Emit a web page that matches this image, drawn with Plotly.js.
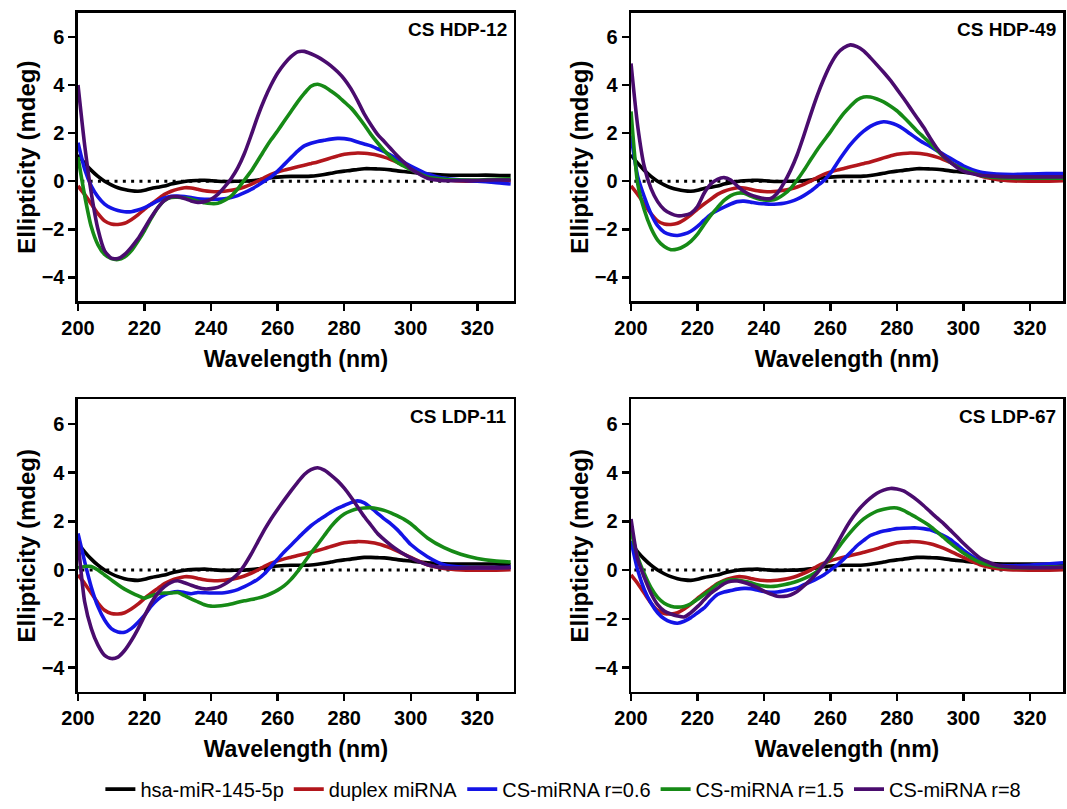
<!DOCTYPE html>
<html>
<head>
<meta charset="utf-8">
<script src="https://cdn.plot.ly/plotly-3.0.1.min.js"></script>
<style>html,body{margin:0;padding:0;background:#fff;}#chart{width:1067px;height:809px;}</style>
</head>
<body>
<div id="chart"></div>
<script>
// ---- data ----
const wavelength = [200,202,204,206,208,210,212,214,216,218,220,222,224,226,228,230,232,234,236,238,240,242,244,246,248,250,252,254,256,258,260,262,264,266,268,270,272,274,276,278,280,282,284,286,288,290,292,294,296,298,300,305,310,315,320,325,330];

const hsa = [1.1,0.75,0.45,0.2,0.0,-0.15,-0.27,-0.35,-0.4,-0.42,-0.38,-0.3,-0.25,-0.2,-0.12,-0.06,-0.01,0.02,0.03,0.04,0.02,0.0,-0.01,-0.01,0.0,0.0,0.02,0.05,0.1,0.14,0.17,0.19,0.2,0.2,0.2,0.21,0.24,0.28,0.33,0.38,0.42,0.45,0.49,0.52,0.52,0.51,0.5,0.47,0.43,0.4,0.37,0.3,0.26,0.25,0.25,0.25,0.23];
const duplex = [-0.2,-0.55,-0.95,-1.35,-1.65,-1.78,-1.8,-1.75,-1.6,-1.4,-1.16,-0.95,-0.75,-0.55,-0.42,-0.33,-0.27,-0.28,-0.34,-0.4,-0.43,-0.44,-0.42,-0.38,-0.32,-0.24,-0.13,0.0,0.15,0.28,0.38,0.46,0.53,0.6,0.66,0.73,0.8,0.88,0.97,1.05,1.12,1.15,1.17,1.16,1.13,1.08,1.0,0.9,0.78,0.65,0.52,0.22,0.07,0.01,0.0,0.0,0.02];

// CS HDP-12
const hdp12_r06 = [1.6,0.5,-0.2,-0.65,-0.95,-1.12,-1.22,-1.27,-1.27,-1.2,-1.1,-0.96,-0.82,-0.7,-0.63,-0.62,-0.64,-0.68,-0.73,-0.75,-0.75,-0.75,-0.73,-0.68,-0.6,-0.48,-0.34,-0.18,0.0,0.18,0.42,0.7,0.98,1.25,1.47,1.58,1.65,1.7,1.75,1.78,1.77,1.72,1.63,1.55,1.47,1.35,1.23,1.08,0.93,0.78,0.63,0.3,0.12,0.05,0.0,-0.05,-0.12];
const hdp12_r15 = [1.0,-0.6,-1.9,-2.65,-3.05,-3.22,-3.26,-3.15,-2.9,-2.5,-2.05,-1.55,-1.1,-0.8,-0.68,-0.67,-0.7,-0.75,-0.83,-0.9,-0.93,-0.92,-0.8,-0.62,-0.32,0.05,0.41,0.85,1.3,1.72,2.1,2.5,2.9,3.3,3.65,3.95,4.03,3.93,3.75,3.55,3.3,3.05,2.72,2.35,1.95,1.6,1.28,1.0,0.78,0.62,0.48,0.17,0.08,0.05,0.05,0.08,0.1];
const hdp12_r8 = [4.0,1.5,-0.5,-2.0,-2.9,-3.2,-3.22,-3.05,-2.75,-2.4,-1.95,-1.5,-1.1,-0.8,-0.65,-0.65,-0.72,-0.82,-0.88,-0.85,-0.75,-0.55,-0.25,0.1,0.55,1.15,1.9,2.7,3.4,4.0,4.5,4.88,5.18,5.38,5.4,5.3,5.17,5.0,4.8,4.55,4.25,3.85,3.35,2.8,2.35,1.95,1.65,1.35,1.05,0.78,0.52,0.12,0.02,0.02,0.03,0.05,0.05];

// CS HDP-49
const hdp49_r06 = [1.9,0.2,-0.65,-1.35,-1.85,-2.12,-2.23,-2.26,-2.2,-2.08,-1.88,-1.62,-1.38,-1.22,-1.08,-0.95,-0.85,-0.83,-0.87,-0.92,-0.94,-0.96,-0.95,-0.92,-0.85,-0.75,-0.6,-0.42,-0.2,0.02,0.33,0.75,1.15,1.52,1.83,2.08,2.28,2.41,2.47,2.43,2.33,2.17,1.97,1.78,1.6,1.45,1.28,1.12,0.96,0.8,0.64,0.38,0.3,0.28,0.3,0.32,0.32];
const hdp49_r15 = [2.9,-0.1,-1.2,-1.95,-2.45,-2.72,-2.85,-2.82,-2.7,-2.5,-2.2,-1.8,-1.42,-1.1,-0.8,-0.6,-0.5,-0.5,-0.62,-0.72,-0.78,-0.79,-0.72,-0.55,-0.3,0.05,0.45,0.88,1.3,1.68,2.05,2.45,2.82,3.12,3.38,3.5,3.5,3.42,3.3,3.13,2.93,2.67,2.39,2.1,1.84,1.58,1.3,1.02,0.8,0.62,0.5,0.25,0.15,0.12,0.12,0.12,0.12];
const hdp49_r8 = [4.9,2.3,0.6,-0.3,-0.85,-1.18,-1.35,-1.44,-1.42,-1.33,-1.05,-0.5,-0.12,0.08,0.15,0.05,-0.2,-0.42,-0.57,-0.66,-0.72,-0.72,-0.5,-0.08,0.45,1.1,1.9,2.75,3.55,4.25,4.85,5.3,5.55,5.67,5.6,5.42,5.14,4.84,4.53,4.2,3.83,3.45,3.05,2.65,2.25,1.8,1.38,1.05,0.8,0.58,0.42,0.25,0.2,0.18,0.18,0.18,0.18];

// CS LDP-11
const ldp11_r06 = [1.5,0.35,-0.7,-1.5,-2.05,-2.4,-2.54,-2.55,-2.4,-2.15,-1.85,-1.48,-1.2,-1.02,-0.92,-0.88,-0.92,-0.97,-0.92,-0.93,-0.94,-0.94,-0.93,-0.88,-0.8,-0.68,-0.54,-0.38,-0.15,0.15,0.45,0.75,1.02,1.3,1.57,1.82,2.02,2.2,2.38,2.53,2.65,2.77,2.84,2.76,2.56,2.33,2.1,1.9,1.65,1.35,1.05,0.55,0.22,0.12,0.1,0.1,0.12];
const ldp11_r15 = [0.1,0.15,0.15,0.0,-0.2,-0.4,-0.6,-0.78,-0.92,-1.05,-1.15,-1.05,-0.97,-0.94,-0.94,-0.92,-1.05,-1.18,-1.3,-1.42,-1.48,-1.47,-1.44,-1.39,-1.32,-1.26,-1.21,-1.15,-1.07,-0.96,-0.82,-0.64,-0.38,-0.05,0.32,0.7,1.05,1.42,1.78,2.08,2.3,2.43,2.52,2.55,2.56,2.52,2.45,2.35,2.22,2.08,1.9,1.32,0.92,0.65,0.48,0.38,0.33];
const ldp11_r8 = [1.2,-1.3,-2.4,-3.08,-3.5,-3.63,-3.57,-3.3,-2.9,-2.42,-1.88,-1.35,-0.95,-0.68,-0.5,-0.44,-0.52,-0.62,-0.71,-0.77,-0.76,-0.71,-0.58,-0.4,-0.16,0.2,0.65,1.15,1.65,2.1,2.5,2.88,3.25,3.6,3.92,4.12,4.2,4.1,3.9,3.66,3.36,3.0,2.6,2.2,1.85,1.5,1.25,1.02,0.82,0.65,0.5,0.22,0.1,0.08,0.1,0.1,0.1];

// CS LDP-67
const ldp67_r06 = [1.2,0.0,-0.8,-1.35,-1.75,-2.0,-2.13,-2.18,-2.1,-1.95,-1.75,-1.55,-1.25,-1.0,-0.9,-0.84,-0.78,-0.75,-0.76,-0.82,-0.88,-0.91,-0.9,-0.86,-0.8,-0.73,-0.6,-0.48,-0.35,-0.2,0.0,0.2,0.45,0.72,1.0,1.22,1.42,1.52,1.6,1.65,1.7,1.72,1.73,1.73,1.7,1.65,1.55,1.42,1.27,1.05,0.82,0.38,0.2,0.18,0.2,0.25,0.3];
const ldp67_r15 = [1.6,0.55,-0.15,-0.72,-1.12,-1.36,-1.48,-1.52,-1.49,-1.38,-1.2,-1.0,-0.8,-0.58,-0.46,-0.4,-0.41,-0.46,-0.52,-0.6,-0.65,-0.67,-0.65,-0.6,-0.54,-0.46,-0.35,-0.22,-0.05,0.22,0.5,0.85,1.22,1.55,1.85,2.1,2.28,2.42,2.5,2.55,2.55,2.45,2.3,2.15,1.98,1.8,1.58,1.35,1.12,0.9,0.7,0.32,0.15,0.1,0.1,0.12,0.15];
const ldp67_r8 = [2.1,0.45,-0.3,-0.95,-1.42,-1.68,-1.8,-1.88,-1.92,-1.75,-1.5,-1.22,-0.95,-0.75,-0.56,-0.46,-0.45,-0.51,-0.6,-0.72,-0.86,-0.98,-1.07,-1.08,-1.02,-0.88,-0.65,-0.4,-0.12,0.22,0.6,1.08,1.57,2.02,2.4,2.7,2.95,3.15,3.28,3.35,3.33,3.25,3.08,2.88,2.65,2.4,2.15,1.92,1.65,1.38,1.1,0.5,0.2,0.12,0.1,0.1,0.12];

const seriesNames = ['hsa-miR-145-5p','duplex miRNA','CS-miRNA r=0.6','CS-miRNA r=1.5','CS-miRNA r=8'];
const panelNames = ['CS HDP-12','CS HDP-49','CS LDP-11','CS LDP-67'];
const panelSeries = [
  [hsa, duplex, hdp12_r06, hdp12_r15, hdp12_r8],
  [hsa, duplex, hdp49_r06, hdp49_r15, hdp49_r8],
  [hsa, duplex, ldp11_r06, ldp11_r15, ldp11_r8],
  [hsa, duplex, ldp67_r06, ldp67_r15, ldp67_r8]
];
const zeroLineX = [201, 313];
const zeroLineY = [0, 0];

// ---- styling ----
const colors = ['#000000','#b2161c','#1414e6','#168a16','#4a0c6e'];
const FONT = 'Liberation Sans, Arial, Helvetica, sans-serif';
const LEGFONT = 'Liberation Sans Narrow, Arial Narrow, Liberation Sans, sans-serif';

const traces = [];
panelSeries.forEach((series, p) => {
  const ax = p === 0 ? '' : String(p + 1);
  traces.push({
    x: zeroLineX, y: zeroLineY, mode: 'lines', xaxis: 'x' + ax, yaxis: 'y' + ax,
    line: {color: '#000', width: 3, dash: '3px,5.3px'}, showlegend: false, hoverinfo: 'skip'
  });
  series.forEach((vals, s) => {
    traces.push({
      x: wavelength, y: vals, mode: 'lines', name: seriesNames[s],
      xaxis: 'x' + ax, yaxis: 'y' + ax,
      line: {color: colors[s], width: 3.6, shape: 'spline', smoothing: 0.6},
      showlegend: p === 0, legendgroup: seriesNames[s]
    });
  });
});

const xDomains = [[0.0731, 0.4817], [0.5914, 0.9963], [0.0731, 0.4817], [0.5914, 0.9963]];
const yDomains = [[0.6242, 0.9839], [0.6242, 0.9839], [0.1372, 0.5019], [0.1372, 0.5019]];
const xRanges = [[200, 331], [200, 330], [200, 331], [200, 330]];

const layout = {
  width: 1067, height: 809,
  margin: {l: 0, r: 0, t: 0, b: 0},
  paper_bgcolor: '#fff', plot_bgcolor: '#fff',
  font: {family: FONT, color: '#000'},
  showlegend: true,
  legend: {
    orientation: 'h', x: 0.528, xanchor: 'center', y: 0.016, yanchor: 'middle',
    font: {family: LEGFONT, size: 20, color: '#000'}, itemwidth: 30,
    traceorder: 'normal', bgcolor: 'rgba(0,0,0,0)'
  },
  annotations: []
};

for (let p = 0; p < 4; p++) {
  const ax = p === 0 ? '' : String(p + 1);
  layout['xaxis' + ax] = {
    domain: xDomains[p], range: xRanges[p], anchor: 'y' + ax,
    tickmode: 'linear', tick0: 200, dtick: 20,
    showline: true, linewidth: 2.5, linecolor: '#000', mirror: true,
    ticks: 'outside', ticklen: 7, tickwidth: 2.5, tickcolor: '#000',
    showgrid: false, zeroline: false,
    tickfont: {family: FONT, size: 20, weight: 'bold', color: '#000'},
    title: {text: 'Wavelength (nm)', font: {family: FONT, size: 23, weight: 'bold', color: '#000'}, standoff: 13}
  };
  layout['yaxis' + ax] = {
    domain: yDomains[p], range: [-5, 7], anchor: 'x' + ax,
    tickmode: 'linear', tick0: 0, dtick: 2,
    showline: true, linewidth: 2.5, linecolor: '#000', mirror: true,
    ticks: 'outside', ticklen: 7, tickwidth: 2.5, tickcolor: '#000',
    showgrid: false, zeroline: false,
    tickfont: {family: FONT, size: 20, weight: 'bold', color: '#000'},
    title: {text: 'Ellipticity (mdeg)', font: {family: FONT, size: 24, weight: 'bold', color: '#000'}, standoff: 0}
  };
  layout.annotations.push({
    text: panelNames[p], xref: 'x' + ax + ' domain', yref: 'y' + ax + ' domain',
    x: 0.988, y: 0.942, xanchor: 'right', yanchor: 'middle', showarrow: false,
    font: {family: FONT, size: 19, weight: 'bold', color: '#000'}
  });
}

Plotly.newPlot('chart', traces, layout, {displayModeBar: false, staticPlot: true});
</script>
</body>
</html>
